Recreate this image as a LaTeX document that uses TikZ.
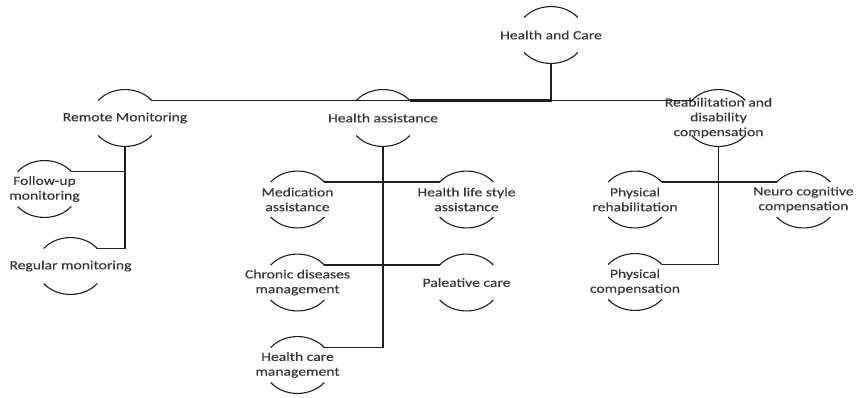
\documentclass[tikz,border=0pt]{standalone}
\usepackage{fontspec}
\setmainfont{Carlito}[FakeStretch=1.25,FakeBold=0.35]
\definecolor{txtgray}{HTML}{383838}
\definecolor{linegray}{HTML}{1E1E1E}
\newcommand\hcnode[3]{%
  \node[lbl] (#1) at (#2) {#3};
  \path (#1.center) ++(-26.8,-17.5) coordinate (#1-tl);
  \path (#1.center) ++(26.8,-17.5) coordinate (#1-tr);
  \path (#1.center) ++(26.8,17.5) coordinate (#1-br);
  \path (#1.center) ++(0,28.5) coordinate (#1-b);
  \draw[arcline] (#1-tl) arc[start angle=218, end angle=322, x radius=34, y radius=28.5];
  \draw[arcline] (#1-br) arc[start angle=38, end angle=142, x radius=34, y radius=28.5];
}
\begin{document}
\begin{tikzpicture}[x=1pt,y=-1pt,
  lbl/.style={inner sep=0pt, align=center, text=txtgray,
    font=\fontsize{12.5}{14.8}\selectfont},
  arcline/.style={draw=linegray, line width=1.1pt},
  busline/.style={draw=linegray, line width=1.2pt},
  mainline/.style={draw=linegray, line width=2.2pt},
  vline/.style={draw=linegray, line width=1.8pt},
  hline/.style={draw=linegray, line width=1.2pt}]
\useasboundingbox[fill=white] (0,0) rectangle (861,397);
\hcnode{HC}{551,35}{Health and Care}
\hcnode{RM}{125,118}{Remote Monitoring}
\hcnode{HA}{383,118}{Health assistance}
\hcnode{RB}{718.5,118}{Reabilitation and\\disability\\compensation}
\hcnode{FU}{44.5,189}{Follow-up\\monitoring}
\hcnode{RG}{70.5,266}{Regular monitoring}
\hcnode{MA}{297.5,199.5}{Medication\\assistance}
\hcnode{HL}{466.5,199.5}{Health life style\\assistance}
\hcnode{CD}{297.5,282.5}{Chronic diseases\\management}
\hcnode{PC}{466.5,282.5}{Paleative care}
\hcnode{HCM}{297.5,365}{Health care\\management}
\hcnode{PR}{635,199.5}{Physical\\rehabilitation}
\hcnode{NC}{803.5,199.5}{Neuro cognitive\\compensation}
\hcnode{PCo}{635,282}{Physical\\compensation}
% top level
\draw[busline] (HC-b) |- (RM-tr);
\draw[busline] (HC-b) |- (RB-tl);
\draw[mainline] (HC-b) |- (HA-tr);
% remote monitoring
\draw[vline] (RM-b) |- (RG-tr);
\draw[hline] (RM-b) |- (FU-tr);
% health assistance
\draw[vline] (HA-b) |- (HCM-tr);
\draw[hline] (MA-tr) -- (HL-tl);
\draw[hline] (CD-tr) -- (PC-tl);
% reabilitation
\draw[vline] (RB-b) |- (PCo-tr);
\draw[hline] (PR-tr) -- (NC-tl);
\end{tikzpicture}
\end{document}
